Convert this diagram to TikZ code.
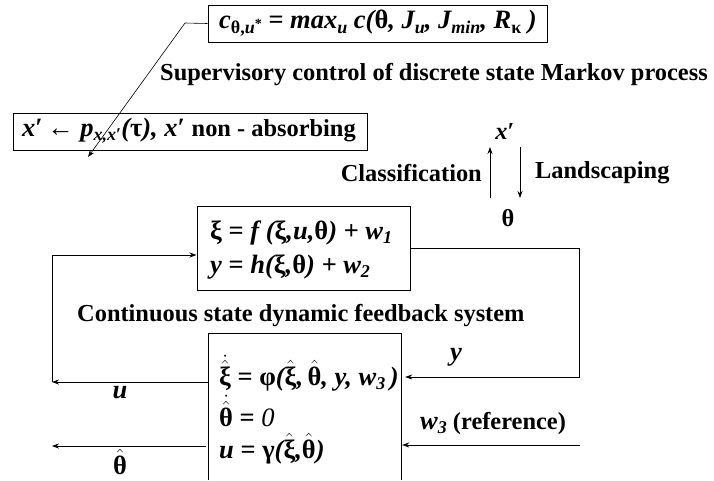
\documentclass[tikz,border=0pt]{standalone}
\usepackage{fontspec}
\setmainfont{Liberation Serif}
\usetikzlibrary{arrows.meta}
\newcommand\I[1]{{\itshape #1}}
\newcommand\G[1]{{\upshape #1}}
\newcommand\Sb[1]{\raisebox{-0.35ex}{\fontsize{18}{18}\selectfont #1}}
\newcommand\Hat[1]{\ensuremath{\hat{\hbox{#1}}}}
\newcommand\DHat[1]{\ensuremath{\dot{\hat{\hbox{#1}}}}}
\begin{document}
\begin{tikzpicture}[x=1pt,y=-1pt,
  every node/.style={font=\fontsize{24.4}{28}\selectfont\bfseries, inner sep=0pt},
  eq/.style={font=\fontsize{26.5}{30}\selectfont\bfseries},
  box/.style={draw, line width=1pt},
  arr/.style={-{Stealth[length=7pt,width=5pt]}, line width=0.8pt},
  thin/.style={line width=0.8pt}]
\useasboundingbox (0,0) rectangle (714,480);

% top box
\node[box, minimum width=339, minimum height=37] (top) at (377.5,23.5) {};
\node[eq] (toptext) at (378,23) {\I{c}\Sb{\G{θ},\I{u}\raisebox{0.6ex}{\fontsize{14}{14}\selectfont *}} = \I{max}\Sb{\I{u}} \I{c(}\G{θ}\I{, J}\Sb{\I{u}}\I{, J}\Sb{\I{min}}\I{, R}\Sb{\G{κ}}\I{ )}};
\node[anchor=west] (sup) at (160,75) {Supervisory control of discrete state Markov process};

% x' box
\node[box, minimum width=354, minimum height=37] (xb) at (190,131.5) {};
\node[eq] (xtext) at (189,131) {\I{x}′\,← \I{p}\Sb{\I{x,x}′}\I{(}\G{τ}\I{), x}′ {\fontsize{24.4}{28}\selectfont non - absorbing}};

\coordinate (d1) at (185,23);
\coordinate (d2) at (88,157);
\draw[arr, line width=0.6pt] (top.west) -- (d1) -- (d2);

% classification / landscaping
\node (xp) at (505,132) {\I{x}′};
\node[anchor=east] (cls) at (482,173) {Classification};
\node[anchor=west] (lsc) at (535,173) {Landscaping};
\node (th) at (508,218) {\G{θ}};
\coordinate (ua) at (490,198);
\coordinate (ub) at (490,147);
\coordinate (da) at (520,147);
\coordinate (db) at (520,198);
\draw[arr] (ua) -- (ub);
\draw[arr] (da) -- (db);

% middle box
\node[box, minimum width=213, minimum height=84] (mid) at (303.5,248) {};
\node[eq, anchor=west] (m1) at (210,233) {\G{ξ} = \I{f (}\G{ξ}\I{,u,}\G{θ}\I{) + w}\Sb{\I{1}}};
\node[eq, anchor=west] (m2) at (210,267) {\I{y} = \I{h(}\G{ξ}\I{,}\G{θ}\I{) + w}\Sb{\I{2}}};

\node[anchor=west] (cont) at (77,316) {Continuous state dynamic feedback system};

% bottom box (open at the bottom)
\node[minimum width=192, minimum height=146] (bot) at (305,407) {};
\draw[thin] (bot.south west) -- (bot.north west) -- (bot.north east) -- (bot.south east);
\node[eq, anchor=west] (b1) at (219,373) {\DHat{ξ} = \G{φ}\I{(}\Hat{ξ}\I{,}\,\Hat{θ}\I{, y, w}\Sb{\I{3}}\,\I{)}};
\node[eq, anchor=west] (b2) at (219,411) {\DHat{θ} = {\mdseries\itshape 0}};
\node[eq, anchor=west] (b3) at (219,449) {\I{u} = \G{γ}\I{(}\Hat{ξ}\I{,}\Hat{θ}\I{)}};

% labels
\node[eq] (ylab) at (456,357) {\I{y}};
\node[anchor=west] (w3) at (420,423) {{\fontsize{26.5}{30}\selectfont\I{w}\Sb{\I{3}}} (reference)};
\node[eq] (ulab) at (120,393) {\I{u}};
\node[eq] (thh) at (120,462) {\Hat{θ}};

% connectors
\coordinate (r1) at (579,248);
\coordinate (r2) at (579,377);
\draw[arr] (mid.east) -- (r1) -- (r2) -- ([xshift=4pt]bot.east |- r2);
\coordinate (w3s) at (580,445);
\draw[arr] (w3s) -- ([xshift=1pt]bot.east |- w3s);
\coordinate (L1) at (52,382);
\coordinate (L2) at (52,255);
\draw[arr] (bot.west |- L1) -- (L1);
\draw[arr] (L1) -- (L2) -- (mid.west |- L2);
\coordinate (L3) at (52,446);
\draw[arr] ([xshift=-3pt]bot.west |- L3) -- (L3);
\end{tikzpicture}
\end{document}
